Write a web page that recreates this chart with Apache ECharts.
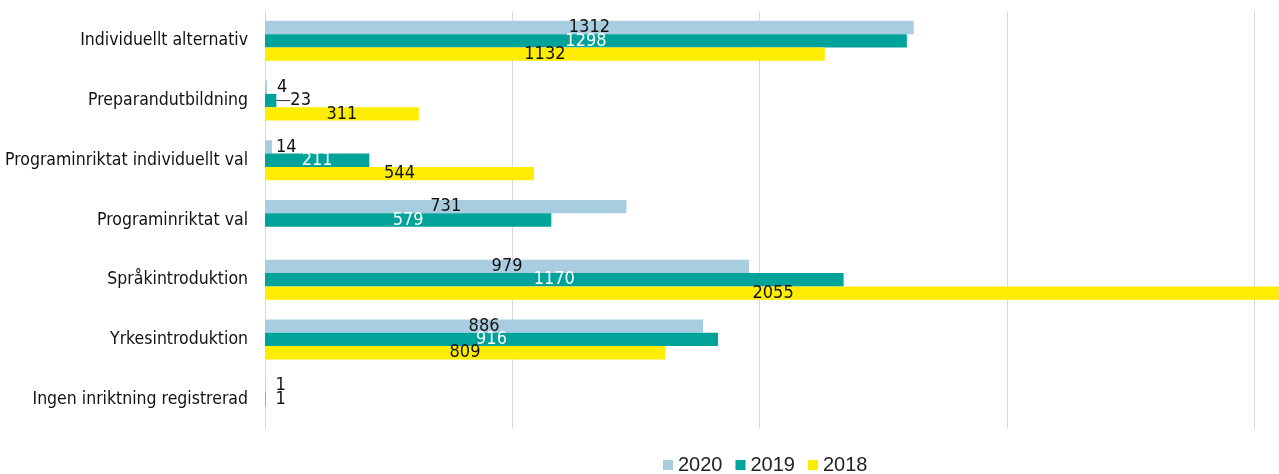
<!DOCTYPE html>
<html>
<head>
<meta charset="utf-8">
<script src="https://cdn.jsdelivr.net/npm/echarts@6/dist/echarts.min.js"></script>
<style>
html,body{margin:0;padding:0;background:#fff;}
#chart{width:1279px;height:474px;}
</style>
</head>
<body>
<div id="chart"></div>
<script>
const categories = ["Individuellt alternativ","Preparandutbildning","Programinriktat individuellt val","Programinriktat val","Språkintroduktion","Yrkesintroduktion","Ingen inriktning registrerad"];
const seriesNames = ["2020","2019","2018"];
const values2020 = [1312, 4, 14, 731, 979, 886, 1];
const values2019 = [1298, 23, 211, 579, 1170, 916, 1];
const values2018 = [1132, 311, 544, null, 2055, 809, null];
const xTicks = [0, 500, 1000, 1500, 2000];

const colors = ["#a9cde0", "#00a39a", "#ffed00"];
const labelColors = ["#111", "#fff", "#111"];
const FONT = "'Liberation Sans Narrow','DejaVu Sans Condensed','Liberation Sans',sans-serif";
const SMALL = 60;

function mkData(vals, idx) {
  return vals.map((v, j) => {
    if (v == null) return null;
    const small = v < SMALL;
    const guided = (idx === 1 && j === 1);
    return {
      value: v,
      label: small ? {position: 'right', distance: v === 1 ? 10 : (v === 4 ? 10 : 4), color: '#111'} : {position: 'inside', color: labelColors[idx]},
      labelLine: {show: guided, length2: 0, lineStyle: {color: '#333', width: 1}}
    };
  });
}

const chart = echarts.init(document.getElementById('chart'), null, {renderer: 'canvas'});
chart.setOption({
  animation: false,
  color: colors,
  grid: {left: 265, right: 25, top: 11, bottom: 45, containLabel: false},
  legend: {
    top: 450, left: 658, itemWidth: 10, itemHeight: 10, itemGap: 13,
    icon: 'rect', textStyle: {fontSize: 20, color: '#222', fontFamily: "'Liberation Sans','Arial',sans-serif"},
    data: seriesNames
  },
  xAxis: {
    type: 'value', min: xTicks[0], max: xTicks[xTicks.length - 1], interval: 500,
    axisLabel: {show: false}, axisLine: {show: false}, axisTick: {show: false},
    splitLine: {show: true, lineStyle: {color: '#d9d9d9', width: 1}}
  },
  yAxis: {
    type: 'category', data: categories, inverse: true,
    axisLine: {show: false}, axisTick: {show: false},
    axisLabel: {fontSize: 17.5, color: '#111', margin: 17, fontFamily: FONT}
  },
  series: seriesNames.map((name, i) => ({
    name: name, type: 'bar', barGap: '0%', barCategoryGap: '33%', clip: false,
    data: mkData([values2020, values2019, values2018][i], i),
    label: {show: true, fontSize: 18, fontFamily: FONT},
    labelLine: {show: false},
    labelLayout: function (p) {
      if (p.seriesIndex === 1 && p.dataIndex === 1) return {dx: 10};
      return {};
    },
    z: 3
  }))
});
</script>
</body>
</html>
